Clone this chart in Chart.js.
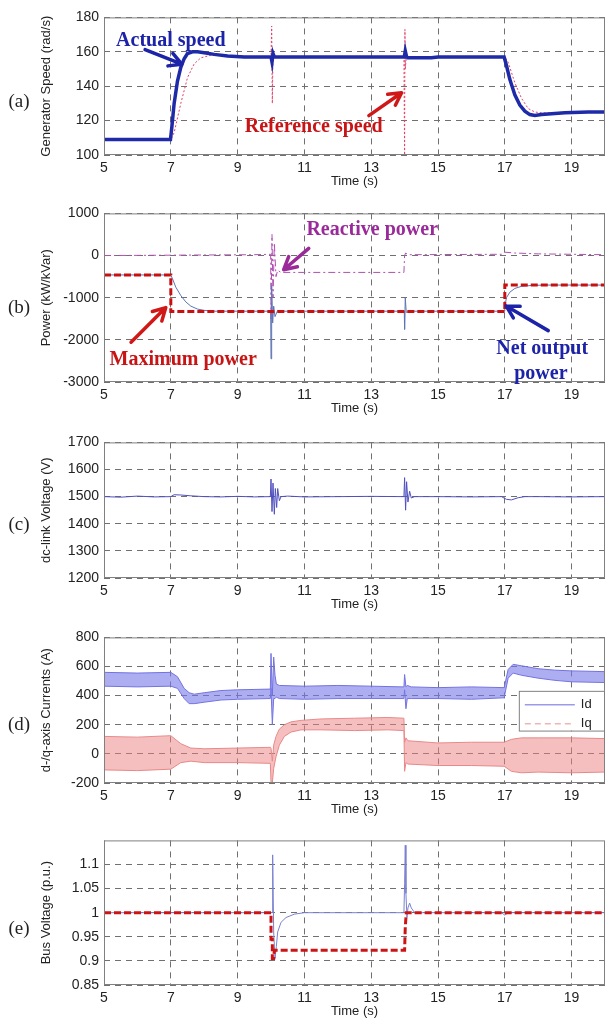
<!DOCTYPE html>
<html>
<head>
<meta charset="utf-8">
<script src="https://cdn.jsdelivr.net/npm/chart.js@4.4.1/dist/chart.umd.min.js"></script>
<style>
  body { margin: 0; background: #fff; width: 607px; height: 1028px; position: relative; overflow: hidden; }
  canvas { position: absolute; left: 0; }
</style>
</head>
<body>
<canvas id="chartA" width="607" height="189" style="top:4px"></canvas>
<canvas id="chartB" width="607" height="220" style="top:200px"></canvas>
<canvas id="chartC" width="607" height="187" style="top:429px"></canvas>
<canvas id="chartD" width="607" height="197" style="top:624px"></canvas>
<canvas id="chartE" width="607" height="196" style="top:827px"></canvas>
<script>
// shared time ticks
const xTicks = [5, 7, 9, 11, 13, 15, 17, 19];

// (a) generator speed
const yTicksA = [100, 120, 140, 160, 180];
const timeActual = [5, 6.99, 7.03, 7.1, 7.2, 7.3, 7.4, 7.5, 7.65, 7.8, 8.0, 8.3, 8.7, 9.2, 10.0, 10.03, 10.06, 10.1, 10.2, 12, 13.99, 14.02, 14.06, 14.1, 14.2, 14.8, 15, 16.98, 17.05, 17.15, 17.3, 17.45, 17.6, 17.75, 17.9, 18.1, 18.4, 18.8, 19.5, 20];
const speedActual = [109, 109, 116, 130, 143, 151, 156, 159, 160, 160, 159.5, 158.5, 157.5, 157, 157, 154, 159, 157, 157, 157, 157, 160.5, 157, 156.5, 156.5, 156.5, 157, 157, 152, 144, 135, 129, 125.5, 123.5, 123, 123.5, 124, 124.5, 125, 125];
const timeRef = [5, 7.0, 7.1, 7.3, 7.5, 7.7, 7.9, 8.2, 8.6, 9.0, 10.0, 10.02, 10.04, 10.06, 10.1, 13.98, 14.0, 14.01, 14.02, 14.05, 14.2, 17.0, 17.1, 17.3, 17.5, 17.7, 17.9, 18.1, 18.4, 19, 20];
const speedRef = [109, 109, 113, 130, 145, 153, 156.5, 158, 158, 157.5, 157, 175, 130, 160, 157, 157, 100, 173, 150, 157, 157, 157, 154, 142, 133, 127, 125, 124.5, 124.5, 125, 125];

// (b) power
const yTicksB = [-3000, -2000, -1000, 0, 1000];
const timeMaxP = [5, 7, 7, 17, 17, 20];
const powerMax = [-460, -460, -1330, -1330, -700, -700];
const timeNet = [5, 7.0, 7.05, 7.15, 7.3, 7.45, 7.6, 7.8, 8.0, 8.3, 9.99, 10.0, 10.02, 10.05, 10.08, 10.12, 10.2, 10.3, 13.99, 14.0, 14.02, 14.05, 14.15, 16.98, 17.0, 17.05, 17.15, 17.3, 17.5, 17.8, 18.2, 20];
const powerNet = [-460, -460, -550, -750, -950, -1100, -1200, -1270, -1300, -1320, -1320, -2450, -700, -1600, -1200, -1450, -1300, -1320, -1320, -1750, -1000, -1350, -1320, -1320, -1200, -1000, -870, -780, -730, -710, -700, -700];
const timeQ = [5, 9.5, 9.99, 10.0, 10.03, 10.06, 10.1, 10.15, 10.2, 10.3, 13.98, 14.0, 14.03, 14.1, 16.9, 17.0, 17.3, 18, 20];
const powerReactive = [0, 20, 30, -1500, 500, -1000, 300, -500, -350, -400, -400, 0, 60, 20, 30, 80, 60, 40, 20];

// (c) dc-link voltage
const yTicksC = [1200, 1300, 1400, 1500, 1600, 1700];
const timeDc = [5, 5.5, 6, 6.5, 7, 7.1, 7.3, 7.6, 8, 8.5, 9, 9.5, 9.98, 10.0, 10.03, 10.06, 10.1, 10.13, 10.17, 10.2, 10.25, 10.3, 10.5, 11, 12, 13, 13.98, 14.0, 14.03, 14.06, 14.1, 14.15, 14.2, 14.3, 15, 16, 16.9, 17.05, 17.2, 17.4, 17.6, 18, 19, 20];
const dcVoltage = [1500, 1498, 1502, 1499, 1500, 1507, 1506, 1503, 1500, 1499, 1501, 1499, 1500, 1565, 1445, 1550, 1435, 1530, 1460, 1530, 1485, 1500, 1502, 1499, 1500, 1501, 1500, 1570, 1450, 1555, 1480, 1520, 1495, 1500, 1500, 1499, 1500, 1490, 1488, 1496, 1500, 1500, 1499, 1500];

// (d) d/q currents, drawn as ripple envelopes
const yTicksD = [-200, 0, 200, 400, 600, 800];
const timeId = [5, 6, 7.0, 7.2, 7.4, 7.55, 7.7, 8.0, 8.5, 9.0, 9.98, 10.0, 10.04, 10.08, 10.12, 10.16, 10.25, 11, 12, 13, 13.98, 14.0, 14.04, 14.08, 14.2, 15, 16, 16.98, 17.1, 17.25, 17.5, 18, 18.5, 19, 20];
const idUpper = [560, 555, 560, 530, 450, 420, 410, 420, 435, 440, 445, 690, 400, 665, 540, 480, 470, 465, 470, 465, 460, 545, 460, 470, 460, 455, 460, 455, 580, 615, 605, 585, 575, 570, 565];
const idLower = [465, 460, 465, 450, 380, 345, 345, 355, 370, 375, 380, 450, 200, 380, 380, 390, 380, 375, 380, 380, 380, 440, 310, 380, 380, 380, 375, 385, 520, 555, 540, 520, 505, 495, 490];
const timeIq = [5, 6, 7.0, 7.3, 7.6, 8, 9, 9.98, 10.0, 10.04, 10.08, 10.15, 10.25, 10.4, 10.6, 10.9, 11.5, 12.5, 13.5, 13.98, 14.0, 14.04, 14.1, 15, 16, 16.98, 17.2, 17.5, 18, 19, 20];
const iqUpper = [120, 115, 125, 70, 40, 35, 40, 45, 40, -50, 60, 120, 170, 200, 220, 230, 240, 245, 250, 245, 80, 110, 90, 75, 80, 80, 100, 110, 110, 110, 105];
const iqLower = [-110, -115, -105, -60, -50, -60, -60, -65, -200, -200, -100, -20, 60, 120, 150, 165, 165, 160, 165, 160, -120, -60, -70, -80, -80, -85, -120, -130, -125, -130, -125];

// (e) bus voltage
const yTicksE = [0.85, 0.9, 0.95, 1, 1.05, 1.1];
const timeBusDip = [5, 10.0, 10.0, 10.04, 10.04, 10.08, 10.1, 14.0, 14.02, 14.05, 20];
const busDip = [1, 1, 0.945, 0.945, 0.905, 0.905, 0.922, 0.922, 0.97, 1.0, 1.0];
const timeBus = [5, 10.0, 10.03, 10.05, 10.08, 10.12, 10.16, 10.2, 10.3, 10.45, 10.7, 11, 12, 13.98, 14.0, 14.02, 14.04, 14.07, 14.1, 14.15, 14.2, 14.3, 16.9, 17.0, 17.1, 20];
const busVoltage = [1, 1, 1.0, 1.12, 0.96, 0.905, 0.93, 0.96, 0.98, 0.99, 0.997, 1.0, 1.0, 1.0, 1.06, 1.14, 1.04, 0.99, 1.01, 1.02, 1.01, 1.0, 1.0, 0.995, 1.0, 1.0];

Chart.defaults.font.family = "'Liberation Sans', Arial, sans-serif";
Chart.defaults.color = '#222';

const pts = (ts, vs) => ts.map((t, i) => ({ x: t, y: vs[i] }));

function line(label, data, color, width, dash) {
  return {
    label,
    data,
    borderColor: color,
    borderWidth: width,
    borderDash: dash || [],
    pointRadius: 0,
    tension: 0,
    fill: false
  };
}

function scales(min, max, ticks, title) {
  return {
    x: {
      type: 'linear',
      min: 5,
      max: 20,
      afterBuildTicks: (s) => { s.ticks = xTicks.map((v) => ({ value: v })); },
      afterFit: (s) => { s.height = 38; },
      ticks: { padding: 5, font: { size: 14 }, callback: (v) => String(v) },
      grid: { color: '#707070', drawTicks: false },
      border: { display: false, dash: [6, 5] },
      title: { display: true, text: 'Time (s)', font: { size: 13 }, padding: { top: 0, bottom: 4 } }
    },
    y: {
      min,
      max,
      afterBuildTicks: (s) => { s.ticks = ticks.map((v) => ({ value: v })); },
      afterFit: (s) => { s.width = 69; },
      ticks: { padding: 5, font: { size: 14 }, callback: (v) => String(Math.round(v * 100) / 100) },
      grid: { color: '#707070', drawTicks: false },
      border: { display: false, dash: [6, 5] },
      title: { display: true, text: title, font: { size: 13 }, padding: { top: 4, bottom: 4 } }
    }
  };
}

const frame = {
  id: 'frame',
  afterDraw(chart) {
    const { ctx, chartArea: a } = chart;
    ctx.save();
    ctx.strokeStyle = '#808080';
    ctx.lineWidth = 1;
    ctx.strokeRect(a.left + 0.5, a.top + 0.5, a.width - 1, a.height - 1);
    ctx.restore();
  }
};

function arrow(ctx, x0, y0, x1, y1, color) {
  const ang = Math.atan2(y1 - y0, x1 - x0);
  const head = 14;
  ctx.strokeStyle = color;
  ctx.lineWidth = 3.5;
  ctx.lineCap = 'round';
  ctx.lineJoin = 'round';
  ctx.beginPath();
  ctx.moveTo(x0, y0);
  ctx.lineTo(x1, y1);
  ctx.moveTo(x1 - head * Math.cos(ang - 0.5), y1 - head * Math.sin(ang - 0.5));
  ctx.lineTo(x1, y1);
  ctx.lineTo(x1 - head * Math.cos(ang + 0.5), y1 - head * Math.sin(ang + 0.5));
  ctx.stroke();
}

// panel letter, callout texts and arrows, placed in data units
function notes(cfg) {
  return {
    id: 'notes',
    afterDraw(chart) {
      const { ctx, scales: { x, y } } = chart;
      ctx.save();
      ctx.textAlign = 'center';
      ctx.textBaseline = 'middle';
      ctx.font = '19px "Liberation Serif"';
      ctx.fillStyle = '#222';
      ctx.fillText(cfg.panel, 19, y.getPixelForValue(cfg.panelAt));
      (cfg.arrows || []).forEach((a) => {
        arrow(ctx, x.getPixelForValue(a.from[0]), y.getPixelForValue(a.from[1]),
          x.getPixelForValue(a.to[0]), y.getPixelForValue(a.to[1]), a.color);
      });
      ctx.font = 'bold 20px "Liberation Serif"';
      (cfg.texts || []).forEach((t) => {
        ctx.fillStyle = t.color;
        ctx.fillText(t.text, x.getPixelForValue(t.at[0]), y.getPixelForValue(t.at[1]));
      });
      ctx.restore();
    }
  };
}

const idqLegend = {
  id: 'idqLegend',
  afterDraw(chart) {
    const { ctx, chartArea: a, scales: { x, y } } = chart;
    const x0 = x.getPixelForValue(17.42);
    const y0 = y.getPixelForValue(433);
    const y1 = y.getPixelForValue(160);
    ctx.save();
    ctx.fillStyle = '#fff';
    ctx.fillRect(x0, y0, a.right - x0, y1 - y0);
    ctx.strokeStyle = '#808080';
    ctx.lineWidth = 1;
    ctx.strokeRect(x0 + 0.5, y0 + 0.5, a.right - x0 - 1, y1 - y0);
    const rows = [chart.data.datasets[0], chart.data.datasets[2]];
    rows.forEach((ds, i) => {
      const ry = y0 + 14 + i * 19;
      ctx.strokeStyle = i === 0 ? '#6a6ae0' : '#e89090';
      ctx.setLineDash(i === 0 ? [] : [6, 4]);
      ctx.beginPath();
      ctx.moveTo(x0 + 6, ry);
      ctx.lineTo(x0 + 56, ry);
      ctx.stroke();
      ctx.setLineDash([]);
      ctx.fillStyle = '#222';
      ctx.font = '13px "Liberation Sans"';
      ctx.textBaseline = 'middle';
      ctx.fillText(ds.label, x0 + 62, ry);
    });
    ctx.restore();
  }
};

function baseOptions(min, max, ticks, title) {
  return {
    responsive: false,
    animation: false,
    layout: { padding: { left: 35, right: 2, top: 10, bottom: 0 } },
    scales: scales(min, max, ticks, title),
    plugins: { legend: { display: false }, tooltip: { enabled: false } }
  };
}

new Chart(document.getElementById('chartA'), {
  type: 'line',
  data: {
    datasets: [
      line('Actual speed', pts(timeActual, speedActual), '#1f2aa8', 3.5),
      line('Reference speed', pts(timeRef, speedRef), '#e0406a', 1, [2, 2])
    ]
  },
  options: baseOptions(100, 180, yTicksA, 'Generator Speed (rad/s)'),
  plugins: [frame, notes({
    panel: '(a)', panelAt: 131,
    texts: [
      { text: 'Actual speed', at: [7.0, 166.5], color: '#1c23a8' },
      { text: 'Reference speed', at: [11.28, 116.2], color: '#c81414' }
    ],
    arrows: [
      { from: [6.23, 161.3], to: [7.33, 152.8], color: '#1c23a8' },
      { from: [12.93, 122.9], to: [13.91, 136.2], color: '#d01818' }
    ]
  })]
});

new Chart(document.getElementById('chartB'), {
  type: 'line',
  data: {
    datasets: [
      line('Maximum power', pts(timeMaxP, powerMax), '#c81010', 3, [7, 3]),
      line('Net output power', pts(timeNet, powerNet), '#5e74b5', 1),
      line('Reactive power', pts(timeQ, powerReactive), '#b050b0', 1, [7, 3, 2, 3])
    ]
  },
  options: baseOptions(-3000, 1000, yTicksB, 'Power (kW/kVar)'),
  plugins: [frame, notes({
    panel: '(b)', panelAt: -1235,
    texts: [
      { text: 'Reactive power', at: [13.03, 600], color: '#9a2a9a' },
      { text: 'Maximum power', at: [7.37, -2484], color: '#c81414' },
      { text: 'Net output', at: [18.12, -2211], color: '#1c23a8' },
      { text: 'power', at: [18.08, -2797], color: '#1c23a8' }
    ],
    arrows: [
      { from: [11.13, 172], to: [10.38, -336], color: '#9a2a9a' },
      { from: [5.81, -2055], to: [6.85, -1234], color: '#d01818' },
      { from: [18.3, -1781], to: [17.04, -1195], color: '#1c23a8' }
    ]
  })]
});

new Chart(document.getElementById('chartC'), {
  type: 'line',
  data: {
    datasets: [line('dc-link voltage', pts(timeDc, dcVoltage), '#5050c0', 1)]
  },
  options: baseOptions(1200, 1700, yTicksC, 'dc-link Voltage (V)'),
  plugins: [frame, notes({ panel: '(c)', panelAt: 1396 })]
});

new Chart(document.getElementById('chartD'), {
  type: 'line',
  data: {
    datasets: [
      Object.assign(line('Id', pts(timeId, idUpper), '#7373e0', 1), { fill: '+1', backgroundColor: 'rgba(118,118,232,0.6)' }),
      line('Id low', pts(timeId, idLower), '#7373e0', 1),
      Object.assign(line('Iq', pts(timeIq, iqUpper), '#e88a8a', 1), { fill: '+1', backgroundColor: 'rgba(236,128,128,0.5)' }),
      line('Iq low', pts(timeIq, iqLower), '#e88a8a', 1)
    ]
  },
  options: baseOptions(-200, 800, yTicksD, 'd-/q-axis Currents (A)'),
  plugins: [frame, idqLegend, notes({ panel: '(d)', panelAt: 200 })]
});

new Chart(document.getElementById('chartE'), {
  type: 'line',
  data: {
    datasets: [
      line('Bus voltage dip', pts(timeBusDip, busDip), '#cc1414', 3, [7, 3]),
      line('Bus voltage', pts(timeBus, busVoltage), '#7a80d0', 1)
    ]
  },
  options: baseOptions(0.85, 1.15, yTicksE, 'Bus Voltage (p.u.)'),
  plugins: [frame, notes({ panel: '(e)', panelAt: 0.967 })]
});
</script>
</body>
</html>
